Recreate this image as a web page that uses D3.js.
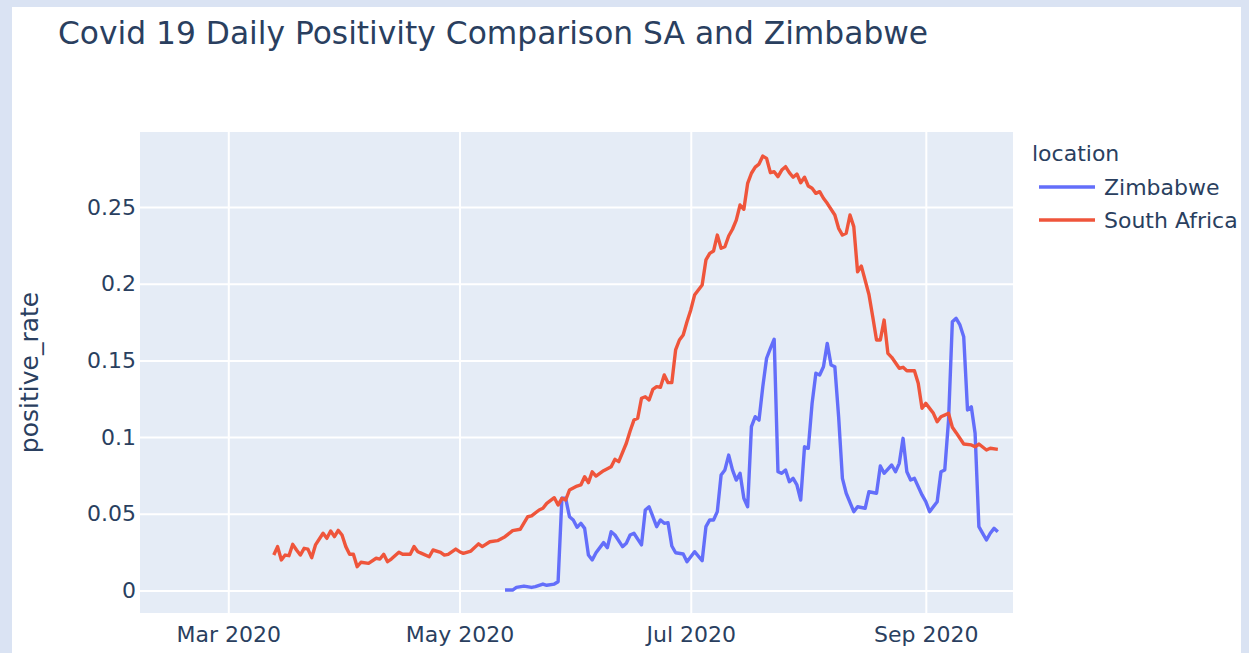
<!doctype html>
<html>
<head>
    <style>
        body { margin: 0; background: #dae3f3; }
        svg { display: block; }
        text { font-family: "DejaVu Sans", Verdana, sans-serif; fill: #2a3f5f; }
        .grid line { stroke: #fff; stroke-width: 2; }
        .grid path { display: none; }
        .axis path, .axis line { display: none; }
        .axis text { font-size: 22px; fill: #2a3f5f; font-family: "DejaVu Sans", Verdana, sans-serif; }
    </style>
    <script src="https://d3js.org/d3.v7.min.js"></script>
</head>
<body>
<svg width="1249" height="653"></svg>
<script>
// positive_rate, [date, value]
var zimbabwe = [
    ["2020-05-13",0.0003],["2020-05-15",0.0003],["2020-05-16",0.002],["2020-05-18",0.0029],["2020-05-20",0.002],
    ["2020-05-21",0.0025],["2020-05-23",0.0042],["2020-05-24",0.0034],["2020-05-26",0.0042],["2020-05-27",0.0057],
    ["2020-05-28",0.0601],["2020-05-29",0.0601],["2020-05-30",0.0481],["2020-05-31",0.046],["2020-06-01",0.0412],
    ["2020-06-02",0.0438],["2020-06-03",0.0405],["2020-06-04",0.0231],["2020-06-05",0.0199],["2020-06-06",0.0246],
    ["2020-06-08",0.0312],["2020-06-09",0.0279],["2020-06-10",0.0383],["2020-06-11",0.0362],["2020-06-13",0.0286],
    ["2020-06-14",0.0308],["2020-06-15",0.0362],["2020-06-16",0.0373],["2020-06-18",0.0297],["2020-06-19",0.0525],
    ["2020-06-20",0.0546],["2020-06-22",0.0416],["2020-06-23",0.046],["2020-06-24",0.0438],["2020-06-25",0.0442],
    ["2020-06-26",0.029],["2020-06-27",0.0246],["2020-06-29",0.0238],["2020-06-30",0.0188],["2020-07-02",0.0253],
    ["2020-07-04",0.0194],["2020-07-05",0.0416],["2020-07-06",0.046],["2020-07-07",0.046],["2020-07-08",0.0514],
    ["2020-07-09",0.0753],["2020-07-10",0.0786],["2020-07-11",0.0883],["2020-07-12",0.0786],["2020-07-13",0.072],
    ["2020-07-14",0.0764],["2020-07-15",0.0601],["2020-07-16",0.0546],["2020-07-17",0.1068],["2020-07-18",0.1133],
    ["2020-07-19",0.1111],["2020-07-20",0.1329],["2020-07-21",0.1514],["2020-07-22",0.1579],["2020-07-23",0.1638],
    ["2020-07-24",0.0774],["2020-07-25",0.0764],["2020-07-26",0.0786],["2020-07-27",0.0709],["2020-07-28",0.0731],
    ["2020-07-29",0.0688],["2020-07-30",0.059],["2020-07-31",0.0937],["2020-08-01",0.0927],["2020-08-02",0.122],
    ["2020-08-03",0.1416],["2020-08-04",0.1405],["2020-08-05",0.1459],["2020-08-06",0.1611],["2020-08-07",0.147],
    ["2020-08-08",0.1459],["2020-08-09",0.1133],["2020-08-10",0.0731],["2020-08-11",0.0634],["2020-08-13",0.0514],
    ["2020-08-14",0.0546],["2020-08-16",0.0536],["2020-08-17",0.0644],["2020-08-19",0.0634],["2020-08-20",0.0812],
    ["2020-08-21",0.0764],["2020-08-23",0.0818],["2020-08-24",0.0774],["2020-08-25",0.0829],["2020-08-26",0.0992],
    ["2020-08-27",0.0774],["2020-08-28",0.072],["2020-08-29",0.0731],["2020-08-31",0.0623],["2020-09-01",0.0579],
    ["2020-09-02",0.0514],["2020-09-04",0.0579],["2020-09-05",0.0774],["2020-09-06",0.0786],["2020-09-07",0.1111],
    ["2020-09-08",0.1752],["2020-09-09",0.1774],["2020-09-10",0.1731],["2020-09-11",0.1654],["2020-09-12",0.1177],
    ["2020-09-13",0.1198],["2020-09-14",0.1025],["2020-09-15",0.0416],["2020-09-16",0.0373],["2020-09-17",0.0329],
    ["2020-09-18",0.0373],["2020-09-19",0.0405],["2020-09-20",0.0383]
];

var southAfrica = [
    ["2020-03-13",0.0231],["2020-03-14",0.0286],["2020-03-15",0.0199],["2020-03-16",0.0231],["2020-03-17",0.0227],
    ["2020-03-18",0.0301],["2020-03-19",0.0264],["2020-03-20",0.0231],["2020-03-21",0.0275],["2020-03-22",0.027],
    ["2020-03-23",0.0214],["2020-03-24",0.0297],["2020-03-26",0.0373],["2020-03-27",0.034],["2020-03-28",0.0388],
    ["2020-03-29",0.0351],["2020-03-30",0.0392],["2020-03-31",0.0362],["2020-04-01",0.0286],["2020-04-02",0.0236],
    ["2020-04-03",0.0236],["2020-04-04",0.0155],["2020-04-05",0.0184],["2020-04-07",0.0177],["2020-04-09",0.021],
    ["2020-04-10",0.0205],["2020-04-11",0.0236],["2020-04-12",0.0188],["2020-04-13",0.0205],["2020-04-15",0.0249],
    ["2020-04-16",0.0236],["2020-04-18",0.0236],["2020-04-19",0.0286],["2020-04-20",0.0253],["2020-04-21",0.0242],
    ["2020-04-23",0.022],["2020-04-24",0.0264],["2020-04-26",0.0249],["2020-04-27",0.0231],["2020-04-28",0.0236],
    ["2020-04-30",0.027],["2020-05-01",0.0253],["2020-05-02",0.0242],["2020-05-04",0.0257],["2020-05-06",0.0304],
    ["2020-05-07",0.0286],["2020-05-09",0.0318],["2020-05-11",0.0325],["2020-05-13",0.0351],["2020-05-15",0.039],
    ["2020-05-17",0.0399],["2020-05-19",0.0481],["2020-05-20",0.0486],["2020-05-22",0.0525],["2020-05-23",0.0536],
    ["2020-05-24",0.0568],["2020-05-26",0.0605],["2020-05-27",0.0557],["2020-05-28",0.0601],["2020-05-29",0.059],
    ["2020-05-30",0.0655],["2020-06-01",0.0681],["2020-06-02",0.0688],["2020-06-03",0.0742],["2020-06-04",0.0703],
    ["2020-06-05",0.0774],["2020-06-06",0.0746],["2020-06-08",0.0781],["2020-06-10",0.0807],["2020-06-11",0.0855],
    ["2020-06-12",0.084],["2020-06-14",0.096],["2020-06-15",0.104],["2020-06-16",0.1111],["2020-06-17",0.1123],
    ["2020-06-18",0.1253],["2020-06-19",0.1263],["2020-06-20",0.1242],["2020-06-21",0.1311],["2020-06-22",0.1329],
    ["2020-06-23",0.1325],["2020-06-24",0.1405],["2020-06-25",0.1355],["2020-06-26",0.1355],["2020-06-27",0.1568],
    ["2020-06-28",0.1633],["2020-06-29",0.1666],["2020-06-30",0.1752],["2020-07-01",0.1829],["2020-07-02",0.1926],
    ["2020-07-04",0.1992],["2020-07-05",0.2155],["2020-07-06",0.2198],["2020-07-07",0.2213],["2020-07-08",0.2317],
    ["2020-07-09",0.2231],["2020-07-10",0.2241],["2020-07-11",0.2311],["2020-07-12",0.2355],["2020-07-13",0.2415],
    ["2020-07-14",0.2513],["2020-07-15",0.2485],["2020-07-16",0.2654],["2020-07-17",0.272],["2020-07-18",0.276],
    ["2020-07-19",0.278],["2020-07-20",0.2832],["2020-07-21",0.2817],["2020-07-22",0.2724],["2020-07-23",0.273],
    ["2020-07-24",0.2698],["2020-07-25",0.2741],["2020-07-26",0.2763],["2020-07-27",0.2724],["2020-07-28",0.2694],
    ["2020-07-29",0.2715],["2020-07-30",0.2658],["2020-07-31",0.2694],["2020-08-01",0.2637],["2020-08-02",0.2622],
    ["2020-08-03",0.2589],["2020-08-04",0.26],["2020-08-05",0.2557],["2020-08-06",0.2524],["2020-08-08",0.2448],
    ["2020-08-09",0.2361],["2020-08-10",0.2317],["2020-08-11",0.2329],["2020-08-12",0.2448],["2020-08-13",0.2372],
    ["2020-08-14",0.2078],["2020-08-15",0.2115],["2020-08-17",0.193],["2020-08-18",0.1785],["2020-08-19",0.1633],
    ["2020-08-20",0.1633],["2020-08-21",0.1763],["2020-08-22",0.1546],["2020-08-23",0.152],["2020-08-25",0.1449],
    ["2020-08-26",0.1455],["2020-08-27",0.1433],["2020-08-29",0.1433],["2020-08-30",0.1351],["2020-08-31",0.1188],
    ["2020-09-01",0.122],["2020-09-03",0.1155],["2020-09-04",0.11],["2020-09-05",0.1133],["2020-09-07",0.1155],
    ["2020-09-08",0.1064],["2020-09-09",0.1029],["2020-09-11",0.0955],["2020-09-13",0.0949],["2020-09-14",0.0937],
    ["2020-09-15",0.0955],["2020-09-17",0.0916],["2020-09-18",0.0927],["2020-09-20",0.092]
];

var yTicks = [0, 0.05, 0.1, 0.15, 0.2, 0.25];
var yTickLabels = ["0", "0.05", "0.1", "0.15", "0.2", "0.25"];
var xTicks = ["2020-03-01", "2020-05-01", "2020-07-01", "2020-09-01"];
var xTickLabels = ["Mar 2020", "May 2020", "Jul 2020", "Sep 2020"];
var seriesNames = ["Zimbabwe", "South Africa"];
var seriesColors = ["#636efa", "#EF553B"];

var parse = d3.utcParse("%Y-%m-%d");
var svg = d3.select("svg");

// white card on the light blue frame
svg.append("rect").attr("x", 12).attr("y", 7).attr("width", 1229).attr("height", 660).attr("fill", "#fff");

var plotLeft = 140, plotRight = 1013, plotTop = 132, plotBottom = 613;

var x = d3.scaleUtc()
    .domain([new Date(Date.UTC(2020, 1, 6, 17)), new Date(Date.UTC(2020, 8, 24))])
    .range([plotLeft, plotRight]);
var y = d3.scaleLinear().domain([-0.01467, 0.2989]).range([plotBottom, plotTop]);

svg.append("rect")
    .attr("x", plotLeft).attr("y", plotTop)
    .attr("width", plotRight - plotLeft).attr("height", plotBottom - plotTop)
    .attr("fill", "#e5ecf6");

var xDates = xTicks.map(parse);

svg.append("g").attr("class", "grid")
    .attr("transform", "translate(0," + plotBottom + ")")
    .call(d3.axisBottom(x).tickValues(xDates).tickSize(-(plotBottom - plotTop)).tickFormat(""));
svg.append("g").attr("class", "grid")
    .attr("transform", "translate(" + plotLeft + ",0)")
    .call(d3.axisLeft(y).tickValues(yTicks).tickSize(-(plotRight - plotLeft)).tickFormat(""));

svg.append("g").attr("class", "axis")
    .attr("transform", "translate(0," + plotBottom + ")")
    .call(d3.axisBottom(x).tickValues(xDates).tickSize(0).tickPadding(13)
        .tickFormat(function(d, i) { return xTickLabels[i]; }));
svg.append("g").attr("class", "axis")
    .attr("transform", "translate(" + plotLeft + ",0)")
    .call(d3.axisLeft(y).tickValues(yTicks).tickSize(0).tickPadding(4)
        .tickFormat(function(d, i) { return yTickLabels[i]; }));

var line = d3.line()
    .x(function(d) { return x(parse(d[0])); })
    .y(function(d) { return y(d[1]); });

[zimbabwe, southAfrica].forEach(function(data, i) {
    svg.append("path")
        .datum(data)
        .attr("d", line)
        .attr("fill", "none")
        .attr("stroke", seriesColors[i])
        .attr("stroke-width", 3.4)
        .attr("stroke-linejoin", "round");
});

svg.append("text")
    .attr("x", 58).attr("y", 44)
    .attr("font-size", 31.3)
    .text("Covid 19 Daily Positivity Comparison SA and Zimbabwe");

svg.append("text")
    .attr("transform", "translate(38," + ((plotTop + plotBottom) / 2) + ") rotate(-90)")
    .attr("text-anchor", "middle")
    .attr("font-size", 25)
    .text("positive_rate");

// legend
var legend = svg.append("g");
legend.append("text").attr("x", 1032).attr("y", 161).attr("font-size", 22).text("location");
seriesNames.forEach(function(name, i) {
    var ly = 187 + i * 33;
    legend.append("line")
        .attr("x1", 1039).attr("x2", 1095).attr("y1", ly).attr("y2", ly)
        .attr("stroke", seriesColors[i]).attr("stroke-width", 3.4);
    legend.append("text")
        .attr("x", 1104).attr("y", ly + 8)
        .attr("font-size", 22)
        .text(name);
});
</script>
</body>
</html>
